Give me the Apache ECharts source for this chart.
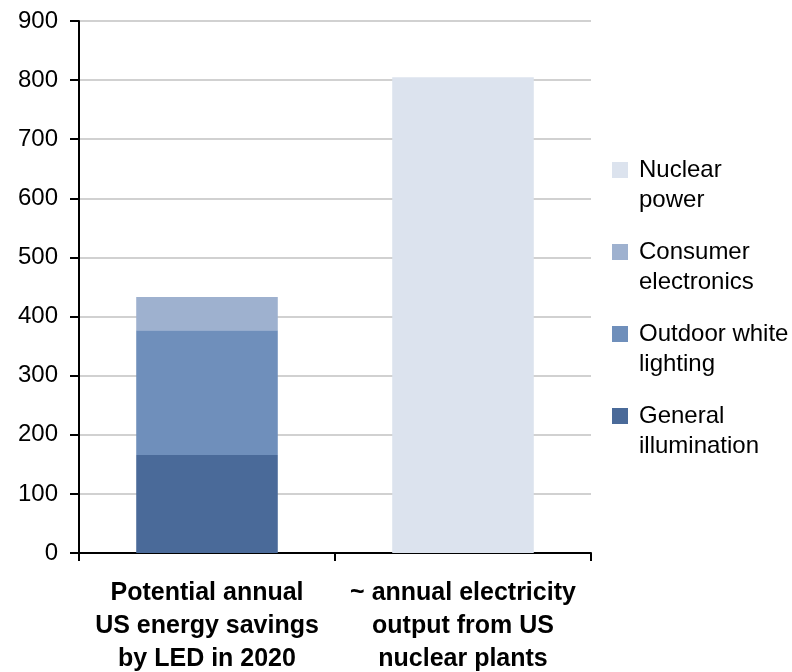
<!DOCTYPE html>
<html>
<head>
<meta charset="utf-8">
<script src="https://cdn.jsdelivr.net/npm/echarts@6/dist/echarts.min.js"></script>
<style>html,body{margin:0;padding:0;background:#fff;}#c{width:792px;height:672px;}</style>
</head>
<body>
<div id="c"></div>
<script>
var categories = ['Potential annual\nUS energy savings\nby LED in 2020', '~ annual electricity\noutput from US\nnuclear plants'];
var seriesNames = ['General illumination', 'Outdoor white lighting', 'Consumer electronics', 'Nuclear power'];
var legendOrder = ['Nuclear power', 'Consumer electronics', 'Outdoor white lighting', 'General illumination'];
var legendLabels = {
  'Nuclear power': 'Nuclear\npower',
  'Consumer electronics': 'Consumer\nelectronics',
  'Outdoor white lighting': 'Outdoor white\nlighting',
  'General illumination': 'General\nillumination'
};
var generalIllumination = [166, '-'];
var outdoorWhiteLighting = [211, '-'];
var consumerElectronics = [56, '-'];
var nuclearPower = ['-', 805];
var colors = ['#4a6a99', '#6f8fbb', '#9eb1cf', '#dce3ee'];

var chart = echarts.init(document.getElementById('c'));
var dataSets = [generalIllumination, outdoorWhiteLighting, consumerElectronics, nuclearPower];
var series = seriesNames.map(function (n, i) {
  return {
    name: n,
    type: 'bar',
    stack: 'total',
    barWidth: '55.3%',
    data: dataSets[i],
    itemStyle: { color: colors[i] },
    emphasis: { disabled: true }
  };
});
chart.setOption({
  animation: false,
  backgroundColor: '#fff',
  grid: { left: 79, right: 201, top: 21, bottom: 119, containLabel: false, outerBoundsMode: 'none' },
  legend: {
    orient: 'vertical',
    left: 612,
    top: 155,
    padding: 0,
    itemWidth: 16,
    itemHeight: 60,
    itemGap: 22,
    icon: 'path://M0,7h16v16h-16z M0,0h16 M0,60h16',
    selectedMode: false,
    data: legendOrder,
    formatter: function (n) { return legendLabels[n]; },
    textStyle: {
      fontFamily: 'Liberation Sans, Arial, sans-serif',
      fontSize: 24,
      lineHeight: 30,
      color: '#000',
      padding: [0, 0, 0, 6]
    }
  },
  xAxis: {
    type: 'category',
    data: categories,
    boundaryGap: true,
    axisLine: { lineStyle: { color: '#000', width: 2 } },
    axisTick: { show: true, length: 8, lineStyle: { color: '#000', width: 2 } },
    axisLabel: {
      interval: 0,
      margin: 24,
      fontFamily: 'Liberation Sans, Arial, sans-serif',
      fontWeight: 'bold',
      fontSize: 25,
      lineHeight: 33,
      color: '#000'
    }
  },
  yAxis: {
    type: 'value',
    min: 0,
    max: 900,
    interval: 100,
    axisLine: { show: true, lineStyle: { color: '#000', width: 2 } },
    axisTick: { show: true, length: 9, lineStyle: { color: '#000', width: 2 } },
    axisLabel: {
      margin: 21,
      fontFamily: 'Liberation Sans, Arial, sans-serif',
      fontSize: 24,
      color: '#000'
    },
    splitLine: { show: true, lineStyle: { color: '#c2c2c2', width: 1.5 } }
  },
  series: series
});
</script>
</body>
</html>
